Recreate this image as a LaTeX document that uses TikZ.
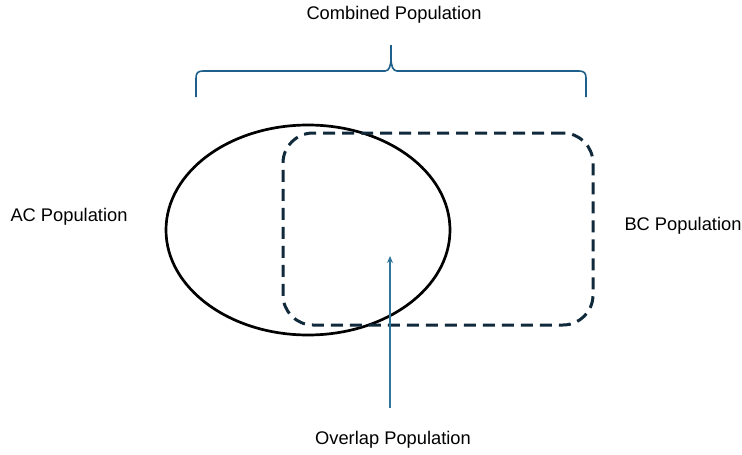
\documentclass[tikz,border=0pt]{standalone}
\usepackage{fontspec}
\setmainfont{Liberation Sans}
\usetikzlibrary{shapes.geometric,arrows.meta}

\definecolor{navydash}{HTML}{102A3C}
\definecolor{bracecol}{HTML}{1F5F8B}
\definecolor{arrowcol}{HTML}{2E7599}

\tikzstyle{label} = [text=black, font=\fontsize{18.3}{21}\selectfont, inner sep=2pt]
\tikzstyle{acpop} = [ellipse, draw=black, line width=2.7pt, minimum width=284pt, minimum height=210pt, inner sep=0pt]
\tikzstyle{bcpop} = [rectangle, rounded corners=30pt, draw=navydash, line width=3pt, dash pattern=on 12pt off 7pt, minimum width=310pt, minimum height=192pt, inner sep=0pt]
\tikzstyle{bracepath} = [draw=bracecol, line width=1.6pt]
\tikzstyle{arrow} = [draw=arrowcol, line width=1.6pt, -{Stealth[length=7pt,width=6pt]}]

\begin{document}
\begin{tikzpicture}[x=1pt, y=-1pt]
			\useasboundingbox (0,0) rectangle (742,455);
			\node (ac) [acpop] at (308,230) {};
			\node (bc) [bcpop] at (438,229) {};
			\node (combined) [label] at (394,15) {Combined Population};
			\node (acLabel) [label] at (69,217) {AC Population};
			\node (bcLabel) [label] at (683,226) {BC Population};
			\node (overlap) [label] at (393,440) {Overlap Population};
			\coordinate (overlapTail) at (390,408);
			\coordinate (overlapTip) at (390,256);
			
			% brace over both populations
			\draw [bracepath] (196,97) -- (196,78) .. controls (196,73) and (198,71) .. (203,71)
				-- (385,71) .. controls (389,71) and (391,66) .. (391,58) -- (391,45)
				-- (391,58) .. controls (391,66) and (393,71) .. (397,71)
				-- (579,71) .. controls (584,71) and (586,73) .. (586,78) -- (586,97);
			
			\draw [arrow] (overlapTail) -- (overlapTip);
			
		\end{tikzpicture}
\end{document}
